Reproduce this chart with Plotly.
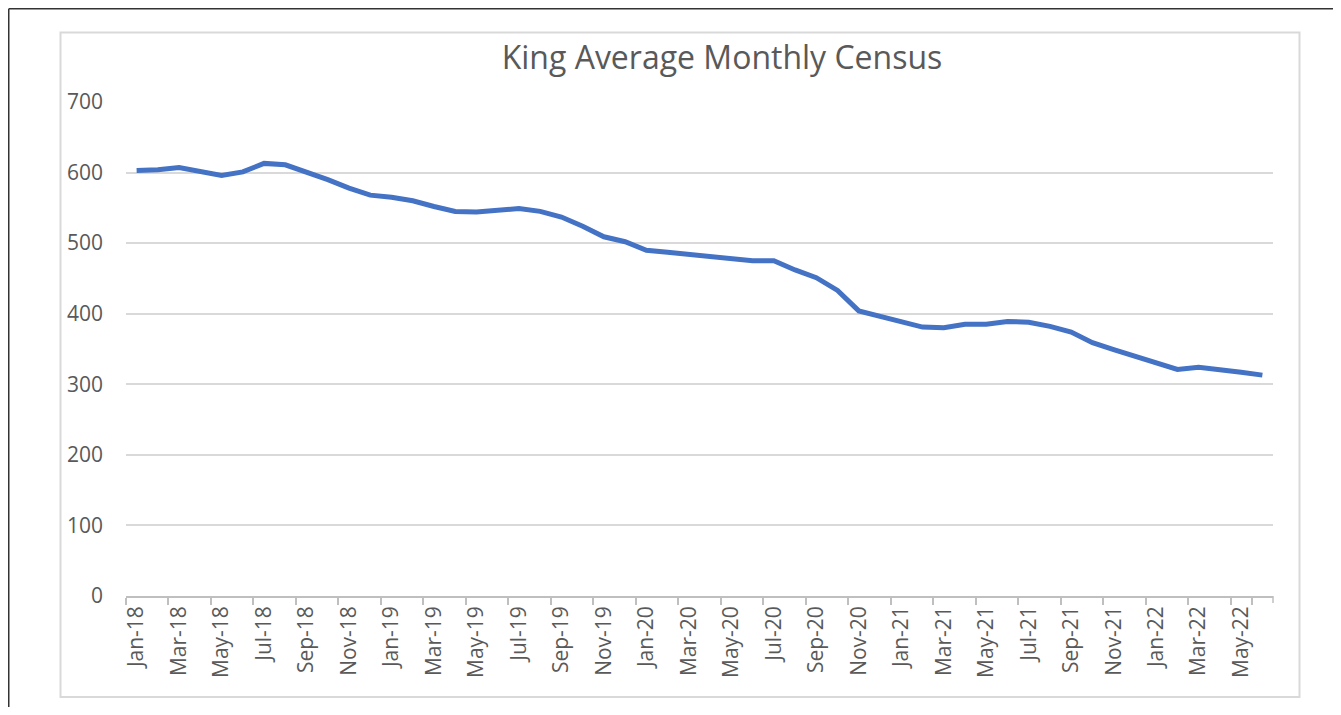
import pandas as pd
import plotly.graph_objects as go

# Categories: months Jan-18 .. Jun-22
months = [d.strftime("%b-%y") for d in pd.date_range("2018-01-01", "2022-06-01", freq="MS")]

census = [
    603, 604, 607, 602, 596, 601, 613, 611, 601, 590, 578, 568,   # 2018
    565, 560, 552, 545, 544, 546, 549, 545, 537, 524, 509, 502,   # 2019
    490, 487, 484, 480, 478, 475, 475, 462, 451, 433, 404, 396,   # 2020
    389, 381, 380, 385, 385, 389, 388, 382, 374, 359, 349, 340,   # 2021
    330, 321, 324, 321, 317, 313,                                 # 2022
]

tick_labels = months[::2]
y_ticks = [0, 100, 200, 300, 400, 500, 600, 700]

# The page body has an 8px margin: work in page pixels, convert to figure pixels.
OFF = 8
W, H = 1341 - 2 * OFF, 715 - 2 * OFF
plot_x0, plot_x1, plot_y0, plot_y1 = 126, 1273, 102, 596   # page pixels
L = plot_x0 - OFF
R = W - (plot_x1 - OFF)
T = plot_y0 - OFF
B = H - (plot_y1 - OFF)
pw, ph = W - L - R, H - T - B

def px_x(p):
    return (p - OFF - L) / pw

def px_y(p):
    return (H - B - (p - OFF)) / ph

FONT = "Open Sans"
GREY_TXT = "#595959"

fig = go.Figure()
fig.add_trace(go.Scatter(
    x=months, y=census, mode="lines",
    line=dict(color="#4472C4", width=5),
    showlegend=False,
))

fig.update_layout(
    width=W, height=H,
    margin=dict(l=L, r=R, t=T, b=B),
    paper_bgcolor="white", plot_bgcolor="white",
    title=dict(
        text="King Average Monthly Census",
        x=px_x(722), xref="paper", xanchor="center",
        y=1 - (58 - OFF) / H, yref="container", yanchor="middle",
        font=dict(family=FONT, size=32, color=GREY_TXT),
    ),
    xaxis=dict(
        type="category", categoryorder="array", categoryarray=months,
        range=[-0.5, len(months) - 0.5],
        tickmode="array", tickvals=tick_labels, ticktext=tick_labels,
        tickangle=-90, tickson="boundaries",
        ticks="outside", ticklen=7, tickcolor="#bfbfbf", tickwidth=1.5,
        showline=True, linecolor="#bfbfbf", linewidth=1.5,
        showgrid=False, zeroline=False,
        tickfont=dict(family=FONT, size=21, color=GREY_TXT),
    ),
    yaxis=dict(
        range=[0, 700], tickmode="array", tickvals=y_ticks,
        showgrid=True, gridcolor="#d9d9d9", gridwidth=1.5,
        showline=False, zeroline=False, ticks="",
        ticklabelstandoff=22,
        tickfont=dict(family=FONT, size=21, color=GREY_TXT),
    ),
    shapes=[
        # chart-area frame
        dict(type="rect", xref="paper", yref="paper",
             x0=px_x(60.5), x1=px_x(1299.5), y0=px_y(697), y1=px_y(32.5),
             line=dict(color="#d9d9d9", width=2), layer="below"),
        # outer screenshot border (left and top)
        dict(type="line", xref="paper", yref="paper",
             x0=px_x(8.75), x1=px_x(8.75), y0=px_y(716), y1=px_y(8.75),
             line=dict(color="#333333", width=1.5)),
        dict(type="line", xref="paper", yref="paper",
             x0=px_x(8.75), x1=px_x(1342), y0=px_y(8.75), y1=px_y(8.75),
             line=dict(color="#333333", width=1.5)),
        # right-end tick at the axis edge
        dict(type="line", xref="paper", yref="paper",
             x0=1, x1=1, y0=0, y1=px_y(603),
             line=dict(color="#bfbfbf", width=1.5)),
    ],
)

fig.write_html("out.html")
